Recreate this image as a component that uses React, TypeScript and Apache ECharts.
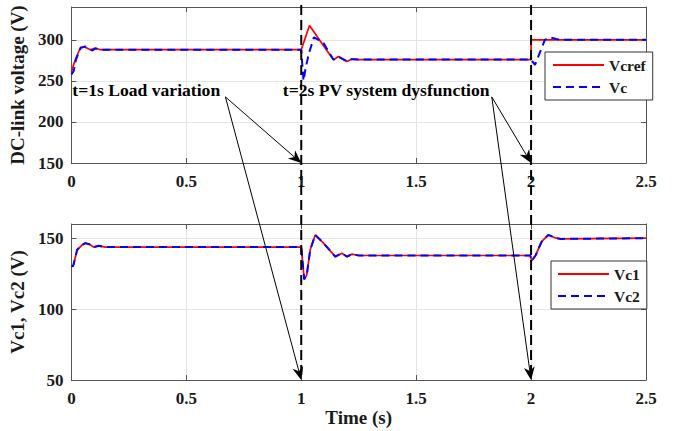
import React, { useEffect, useRef } from "react";
import * as echarts from "echarts";

// ---- Data ----
const tVcref = [0, 0.017, 0.04, 0.06, 0.083, 0.104, 0.126, 0.15, 1.0, 1.036, 1.1, 1.14, 1.162, 1.199, 1.22, 1.25, 2.0, 2.0, 2.5];
const vVcref = [261, 276, 291, 291, 288, 290, 288, 288, 288, 317.4, 291.5, 275.6, 279.7, 273.6, 276.6, 276, 276, 300, 300];

const tVc = [0, 0.01, 0.02, 0.04, 0.06, 0.08, 0.092, 0.104, 0.126, 0.15, 1.0, 1.005, 1.01, 1.02, 1.035, 1.055, 1.075, 1.097, 1.12, 1.14, 1.162, 1.199, 1.22, 1.25, 2.0, 2.017, 2.06, 2.083, 2.11, 2.13, 2.5];
const vVc = [258, 262, 276, 290, 292, 289, 287, 289.5, 288, 288, 288, 268, 250, 267, 285, 303, 300, 296, 285, 276, 279.5, 274, 276.5, 276, 276, 269.5, 300, 303, 301, 300, 300];

const tVc1 = [0, 0.008, 0.025, 0.045, 0.061, 0.08, 0.097, 0.119, 0.148, 0.2, 1.0, 1.013, 1.024, 1.039, 1.061, 1.097, 1.148, 1.177, 1.199, 1.22, 1.25, 1.996, 2.003, 2.02, 2.046, 2.075, 2.11, 2.13, 2.5];
const vVc1 = [130, 130.5, 141.8, 145, 146.5, 145.5, 143.7, 144.6, 143.7, 143.7, 143.7, 121, 124, 141.8, 152.3, 146.5, 137, 139.4, 137, 138.7, 137.8, 137.8, 134, 138, 147.6, 152.3, 150, 149.5, 150];

const tVc2 = [0, 0.008, 0.025, 0.045, 0.061, 0.08, 0.097, 0.119, 0.148, 0.2, 1.0, 1.013, 1.024, 1.039, 1.061, 1.097, 1.148, 1.177, 1.199, 1.22, 1.25, 1.996, 2.003, 2.02, 2.046, 2.075, 2.11, 2.13, 2.5];
const vVc2 = [130, 130.5, 141.8, 145, 146.5, 145.5, 143.7, 144.6, 143.7, 143.7, 143.7, 121, 124, 141.8, 152.3, 146.5, 137, 139.4, 137, 138.7, 137.8, 137.8, 134, 138, 147.6, 152.3, 150, 149.5, 150];

const topYRange = [150, 340];
const bottomYRange = [50, 160];
const xRange = [0, 2.5];

const eventTimes = [1, 2];
const annotationTexts = ["t=1s Load variation", "t=2s PV system dysfunction"];
const annotationTime = [0.004, 0.92];
const annotationValue = [239, 239];
const arrowStartTime = [0.67, 1.829];
const arrowStartValue = [230.5, 230.5];

const FONT = '"Liberation Serif", "Times New Roman", serif';
const AX = "#555555";
const GRIDC = "#e4e4e4";
const LABC = "#1a1a1a";

const zip = (t: number[], v: number[]) => t.map((x, i) => [x, v[i]]);

function xAxisDef(grid: number, extra: any = {}) {
  return {
    gridIndex: grid,
    type: "value",
    min: xRange[0],
    max: xRange[1],
    interval: 0.5,
    axisLine: { show: true, onZero: false, lineStyle: { color: AX, width: 1 } },
    axisTick: { show: true, inside: true, length: 5, lineStyle: { color: AX } },
    axisLabel: { margin: 10, fontFamily: FONT, fontWeight: "bold", fontSize: 17, color: LABC },
    splitLine: { show: true, lineStyle: { color: GRIDC, width: 1 } },
    ...extra,
  };
}

function yAxisDef(grid: number, range: number[], extra: any = {}) {
  return {
    gridIndex: grid,
    type: "value",
    min: range[0],
    max: range[1],
    interval: 50,
    axisLine: { show: true, onZero: false, lineStyle: { color: AX, width: 1 } },
    axisTick: { show: true, inside: true, length: 5, lineStyle: { color: AX } },
    axisLabel: { margin: 8, fontFamily: FONT, fontWeight: "bold", fontSize: 17, color: LABC, showMaxLabel: false },
    splitLine: { show: true, lineStyle: { color: GRIDC, width: 1 } },
    ...extra,
  };
}

const hidden = { axisLabel: { show: false }, splitLine: { show: false } };
const nameStyle = { fontFamily: FONT, fontWeight: "bold", fontSize: 19, color: LABC };

const legendBase = {
  orient: "vertical",
  itemWidth: 51,
  itemHeight: 14,
  itemGap: 6,
  backgroundColor: "#ffffff",
  borderColor: "#333333",
  borderWidth: 1,
  borderRadius: 0,
  itemStyle: { opacity: 0 },
  textStyle: { fontFamily: FONT, fontWeight: "bold", fontSize: 15.5, color: LABC },
};

export default function App() {
  const ref = useRef<HTMLDivElement>(null);
  useEffect(() => {
    const chart = echarts.init(ref.current!, null, { renderer: "svg" });
    const option: any = {
      animation: false,
      backgroundColor: "#ffffff",
      grid: [
        { left: 71, top: 7, width: 575, height: 156 },
        { left: 71, top: 224, width: 575, height: 156 },
      ],
      xAxis: [
        xAxisDef(0),
        xAxisDef(1, { name: "Time (s)", nameLocation: "middle", nameGap: 24, nameTextStyle: nameStyle }),
        xAxisDef(0, { position: "top", ...hidden }),
        xAxisDef(1, { position: "top", ...hidden }),
      ],
      yAxis: [
        yAxisDef(0, topYRange, { name: "DC-link voltage (V)", nameLocation: "middle", nameGap: 33, nameTextStyle: nameStyle }),
        yAxisDef(1, bottomYRange, { name: "Vc1, Vc2 (V)", nameLocation: "middle", nameGap: 33, nameTextStyle: nameStyle }),
        yAxisDef(0, topYRange, { position: "right", ...hidden }),
        yAxisDef(1, bottomYRange, { position: "right", ...hidden }),
      ],
      legend: [
        { ...legendBase, data: ["Vcref", "Vc"], left: 545, top: 52, padding: [5, 7, 5, 7] },
        { ...legendBase, data: ["Vc1", "Vc2"], left: 551, top: 261, padding: [5, 7, 5, 6] },
      ],
      series: [
        {
          type: "line", name: "Vcref", xAxisIndex: 0, yAxisIndex: 0, data: zip(tVcref, vVcref),
          symbol: "none", showSymbol: false, lineStyle: { color: "#ff0000", width: 1.7 }, itemStyle: { color: "#ff0000" },
        },
        {
          type: "line", name: "Vc", xAxisIndex: 0, yAxisIndex: 0, data: zip(tVc, vVc),
          symbol: "none", showSymbol: false, lineStyle: { color: "#0000ff", width: 2, type: [8, 5] }, itemStyle: { color: "#0000ff" },
        },
        {
          type: "line", name: "Vc1", xAxisIndex: 1, yAxisIndex: 1, data: zip(tVc1, vVc1),
          symbol: "none", showSymbol: false, lineStyle: { color: "#ff0000", width: 1.7 }, itemStyle: { color: "#ff0000" },
        },
        {
          type: "line", name: "Vc2", xAxisIndex: 1, yAxisIndex: 1, data: zip(tVc2, vVc2),
          symbol: "none", showSymbol: false, lineStyle: { color: "#0000ff", width: 2, type: [8, 5] }, itemStyle: { color: "#0000ff" },
        },
      ],
    };
    chart.setOption(option);

    const px = (g: number, x: number, y: number) =>
      chart.convertToPixel({ gridIndex: g } as any, [x, y]) as unknown as number[];

    const graphics: any[] = [];
    eventTimes.forEach((T) => {
      const top = px(0, T, topYRange[1]);
      const bot = px(1, T, bottomYRange[0]);
      graphics.push({
        type: "line", z: 100,
        shape: { x1: top[0], y1: top[1] - 2, x2: bot[0], y2: bot[1] },
        style: { stroke: "#000000", lineWidth: 2, lineDash: [10, 5] },
      });
    });

    const arrow = (sx: number, sy: number, ex: number, ey: number) => {
      const dx = ex - sx, dy = ey - sy;
      const len = Math.sqrt(dx * dx + dy * dy);
      const ux = dx / len, uy = dy / len;
      const nx = -uy, ny = ux;
      const L = 13, W = 5.5, N = 9;
      graphics.push({
        type: "line", z: 100,
        shape: { x1: sx, y1: sy, x2: ex - ux * N, y2: ey - uy * N },
        style: { stroke: "#000000", lineWidth: 1 },
      });
      graphics.push({
        type: "polygon", z: 100,
        shape: {
          points: [
            [ex, ey],
            [ex - ux * L + nx * W, ey - uy * L + ny * W],
            [ex - ux * N, ey - uy * N],
            [ex - ux * L - nx * W, ey - uy * L - ny * W],
          ],
        },
        style: { fill: "#000000" },
      });
    };

    annotationTexts.forEach((txt, i) => {
      const p = px(0, annotationTime[i], annotationValue[i]);
      graphics.push({
        type: "text", z: 101, x: p[0], y: p[1],
        style: { text: txt, fontFamily: FONT, fontWeight: "bold", fontSize: 17.6, fill: "#000000", textAlign: "left", verticalAlign: "middle" },
      });
      const s = px(0, arrowStartTime[i], arrowStartValue[i]);
      const e1 = px(0, eventTimes[i], topYRange[0]);
      const e2 = px(1, eventTimes[i], bottomYRange[0]);
      arrow(s[0], s[1], e1[0], e1[1]);
      arrow(s[0], s[1], e2[0], e2[1]);
    });

    chart.setOption({ graphic: graphics });
    return () => chart.dispose();
  }, []);

  return (
    <div
      ref={ref}
      style={{ position: "fixed", left: 0, top: 0, width: 675, height: 431, background: "#fff" }}
    />
  );
}
